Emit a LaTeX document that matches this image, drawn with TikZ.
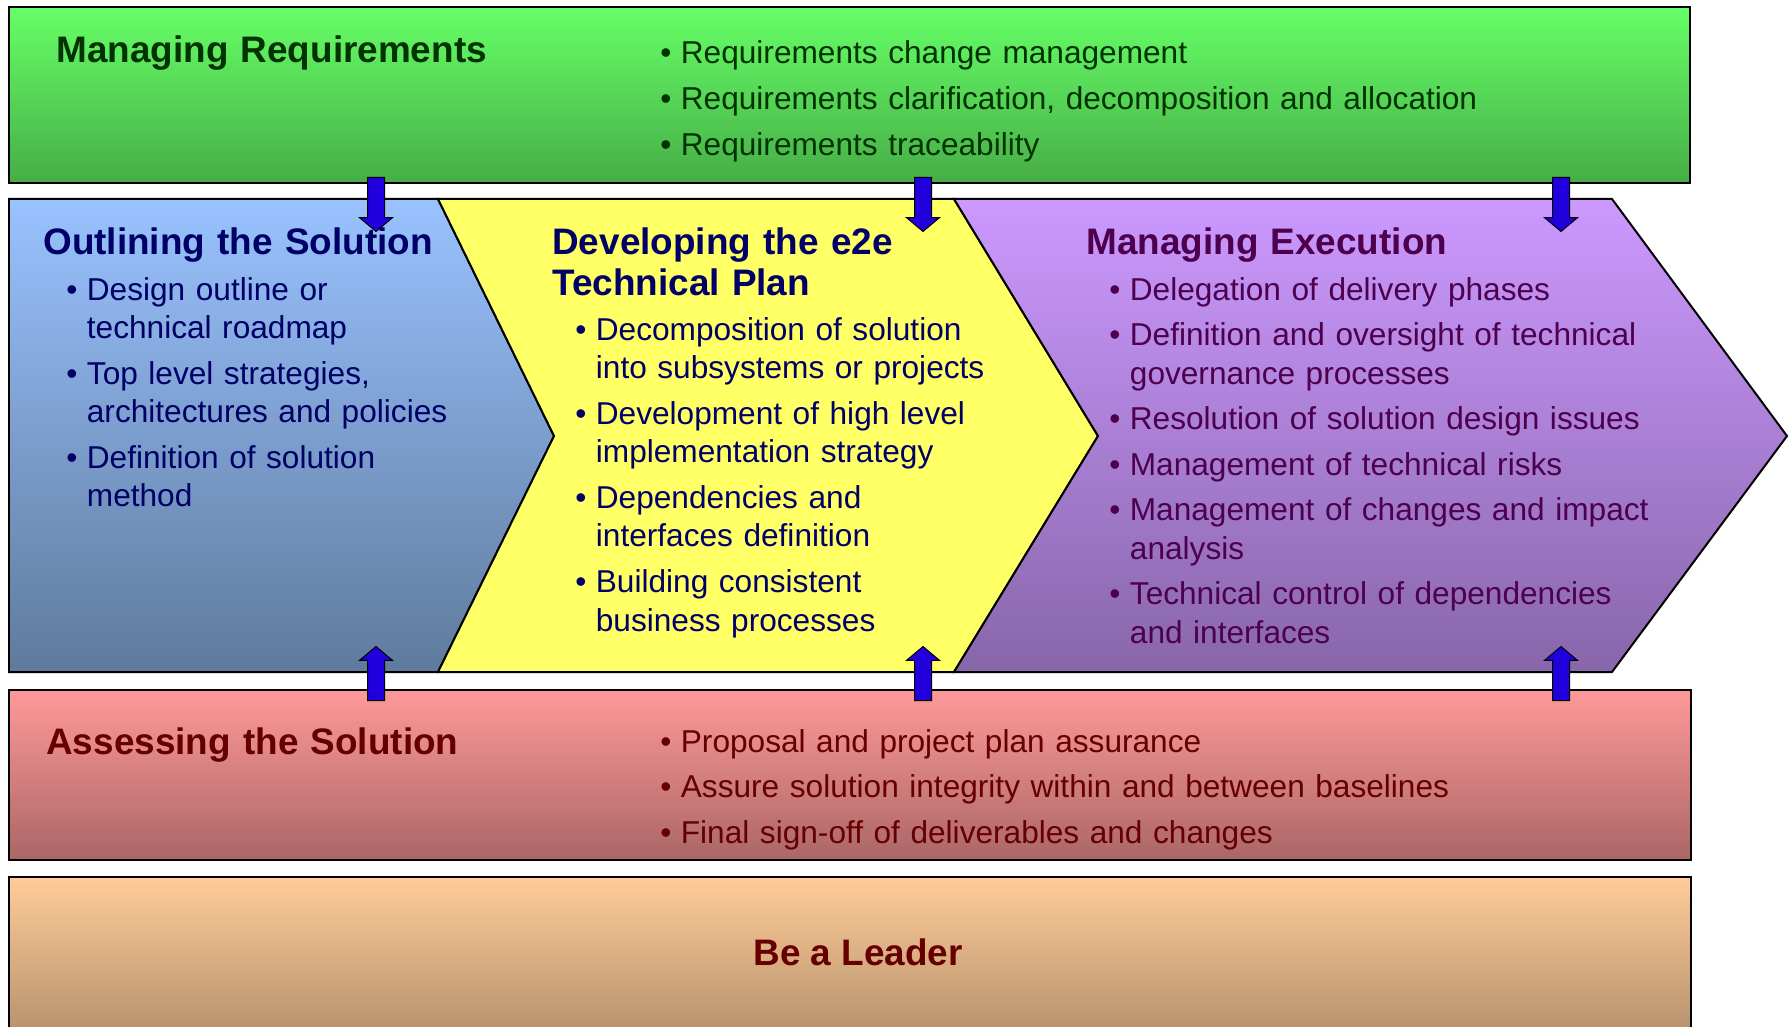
\documentclass[tikz,border=0pt]{standalone}
\usepackage{fontspec}
\setmainfont{Liberation Sans}
\usetikzlibrary{shapes.arrows,positioning}

\definecolor{reqtop}{HTML}{66FF66}
\definecolor{reqbot}{HTML}{47AD47}
\definecolor{reqtext}{HTML}{003300}
\definecolor{outtop}{HTML}{99C2FF}
\definecolor{outbot}{HTML}{5F7A9C}
\definecolor{navytext}{HTML}{000066}
\definecolor{devfill}{HTML}{FFFF66}
\definecolor{exetop}{HTML}{CC99FF}
\definecolor{exebot}{HTML}{8866AA}
\definecolor{exetext}{HTML}{4D004D}
\definecolor{asstop}{HTML}{FF9999}
\definecolor{assbot}{HTML}{AA6666}
\definecolor{redtext}{HTML}{660000}
\definecolor{leadtop}{HTML}{FFCC99}
\definecolor{leadbot}{HTML}{AA8866}
\definecolor{arrowblue}{HTML}{2200DD}

\newcommand{\bitem}[1]{\hangindent=0.65em\hangafter=1\noindent
  \makebox[0.65em][l]{\textbullet}#1\par}

\begin{document}
\begin{tikzpicture}[x=0.02cm, y=-0.02cm]
	\tikzset{panel/.style={draw=black, line width=0.04cm}}
	\tikzset{heading/.style={inner sep=0, anchor=base west,
	  text width=12cm, align=left,
	  font=\fontsize{21}{23}\selectfont\bfseries}}
	\tikzset{points/.style={inner sep=0, anchor=base west,
	  text width=17cm, align=left,
	  font=\fontsize{18}{22}\selectfont\setlength{\parskip}{3.9pt}}}
	\tikzset{downarrow/.style={single arrow, draw=black, fill=arrowblue,
	  line width=0.02cm, shape border rotate=270, inner sep=0.16cm,
	  minimum height=1.08cm, minimum width=0.64cm,
	  single arrow head extend=0.16cm, single arrow tip angle=100}}
	\tikzset{uparrow/.style={downarrow, shape border rotate=90}}

	\clip (0,0) rectangle (1789,1027);

	% bands
	\shade[panel, top color=reqtop, bottom color=reqbot]
	  (9,7) rectangle (1690,183);
	\shade[panel, top color=asstop, bottom color=assbot]
	  (9,690) rectangle (1691,860);
	\shade[panel, top color=leadtop, bottom color=leadbot]
	  (9,877) rectangle (1691,1060);

	% chevrons
	\coordinate (outtip) at (554,436);
	\coordinate (devtip) at (1098,436);
	\coordinate (exetip) at (1787,436);
	\shade[panel, top color=outtop, bottom color=outbot]
	  (9,199) -- (438,199) -- (outtip) -- (438,672) -- (9,672) -- cycle;
	\fill[devfill] (438,199) -- (954,199) -- (devtip) -- (954,672)
	  -- (438,672) -- (outtip) -- cycle;
	\draw[panel] (438,199) -- (954,199) -- (devtip) -- (954,672)
	  -- (438,672) -- (outtip) -- cycle;
	\shade[panel, top color=exetop, bottom color=exebot]
	  (954,199) -- (1612,199) -- (exetip) -- (1612,672)
	  -- (954,672) -- (devtip) -- cycle;

	% texts
	\node[heading, text=reqtext] (reqtitle) at (56,63)
	  {Managing Requirements};
	\node[points, text=reqtext] (reqlist) at (660,64) {%
	  \bitem{Requirements change management}
	  \bitem{Requirements clarification, decomposition and allocation}
	  \bitem{Requirements traceability}};

	\node[heading, text=navytext] (outtitle) at (43,255)
	  {Outlining the Solution};
	\node[points, text=navytext] (outlist) at (66,300) {%
	  \bitem{Design outline or\newline technical roadmap}
	  \bitem{Top level strategies,\newline architectures and policies}
	  \bitem{Definition of solution\newline method}};

	\node[heading, text=navytext] (devtitle) at (552,255)
	  {Developing the e2e\\Technical Plan};
	\node[points, text=navytext] (devlist) at (575,340) {%
	  \bitem{Decomposition of solution\newline into subsystems or projects}
	  \bitem{Development of high level\newline implementation strategy}
	  \bitem{Dependencies and\newline interfaces definition}
	  \bitem{Building consistent\newline business processes}};

	\node[heading, text=exetext] (exetitle) at (1086,255)
	  {Managing Execution};
	\node[points, text=exetext] (exelist) at (1109,300) {%
	  \bitem{Delegation of delivery phases}
	  \bitem{Definition and oversight of technical\newline governance processes}
	  \bitem{Resolution of solution design issues}
	  \bitem{Management of technical risks}
	  \bitem{Management of changes and impact\newline analysis}
	  \bitem{Technical control of dependencies\newline and interfaces}};

	\node[heading, text=redtext] (asstitle) at (46,754)
	  {Assessing the Solution};
	\node[points, text=redtext] (asslist) at (660,752) {%
	  \bitem{Proposal and project plan assurance}
	  \bitem{Assure solution integrity within and between baselines}
	  \bitem{Final sign-off of deliverables and changes}};

	\node[text=redtext, inner sep=0,
	  font=\fontsize{21}{23}\selectfont\bfseries] (leader)
	  at (858,952) {Be a Leader};

	% arrows between the bands
	\node[downarrow, anchor=tail] (reqarrowa) at (376,177) {};
	\node[downarrow, anchor=tail] (reqarrowb) at (923,177) {};
	\node[downarrow, anchor=tail] (reqarrowc) at (1561,177) {};
	\node[uparrow, anchor=tail] (assarrowa) at (376,701) {};
	\node[uparrow, anchor=tail] (assarrowb) at (923,701) {};
	\node[uparrow, anchor=tail] (assarrowc) at (1561,701) {};
\end{tikzpicture}
\end{document}
